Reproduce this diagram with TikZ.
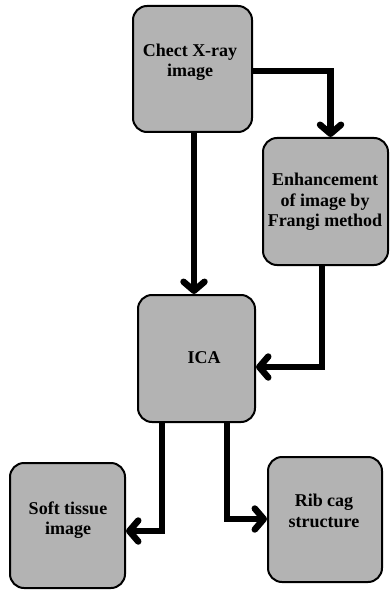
\documentclass[tikz,border=0pt]{standalone}
\usepackage{fontspec}
\setmainfont{Liberation Serif}
\usetikzlibrary{arrows.meta,calc}
\begin{document}
\begin{tikzpicture}[x=1pt,y=-1pt,
  box/.style={draw=black,line width=2pt,fill=boxgray,rounded corners=14pt,inner sep=0pt},
  txt/.style={font=\bfseries\fontsize{18}{20.5}\selectfont,align=center,inner sep=0pt},
  conn/.style={line width=6.5pt,-{Straight Barb[length=9pt,width=21pt,round]}}]
\definecolor{boxgray}{RGB}{179,179,179}
\useasboundingbox (0,0) rectangle (389,593);
\node[box,minimum width=119pt,minimum height=126pt] (b1) at (192.5,69) {};
\node[txt] (t1) at (190,62) {Chect X-ray\\image};
\node[box,minimum width=125pt,minimum height=127pt] (b2) at (325.5,201.5) {};
\node[txt] (t2) at (325,202) {Enhancement\\of image by\\Frangi method};
\node[box,minimum width=117pt,minimum height=127pt] (b3) at (196.5,358.5) {};
\node[txt] (t3) at (204,358) {ICA};
\node[box,minimum width=115pt,minimum height=125pt] (b4) at (67.5,525.5) {};
\node[txt] (t4) at (68,520) {Soft tissue\\image};
\node[box,minimum width=114pt,minimum height=125pt] (b5) at (325,519.5) {};
\node[txt] (t5) at (324,511) {Rib cag\\structure};
\draw[conn] ([yshift=-2pt]b1.east) -| ([xshift=5pt]b2.north);
\draw[conn] ([xshift=1.5pt]b1.south) -- ([xshift=-2.5pt]b3.north);
\draw[conn] ([xshift=-3.5pt]b2.south) |- ([yshift=-8.5pt]b3.east);
\draw[conn] ([xshift=-34.5pt]b3.south) |- ([yshift=-5.5pt]b4.east);
\draw[conn] ([xshift=30.5pt]b3.south) |- ([yshift=0.5pt]b5.west);
\end{tikzpicture}
\end{document}
